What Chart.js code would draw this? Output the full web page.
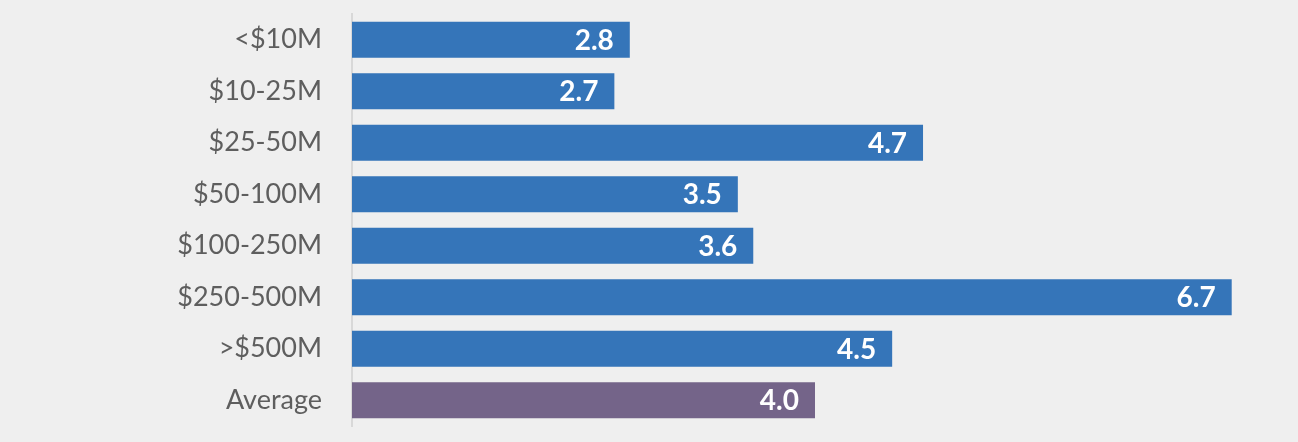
<!DOCTYPE html>
<html>
<head>
<meta charset="utf-8">
<script src="https://cdn.jsdelivr.net/npm/chart.js@4"></script>
<style>
  html, body { margin: 0; padding: 0; background: #efefef; }
  #wrap { width: 1298px; height: 442px; }
</style>
</head>
<body>
<div id="wrap"><canvas id="myChart"></canvas></div>
<script>
const categorias = ["<$10M", "$10-25M", "$25-50M", "$50-100M", "$100-250M", "$250-500M", ">$500M", "Average"];
const valores = [2.8, 2.7, 4.7, 3.5, 3.6, 6.7, 4.5, 4.0];
const colores = ["#3575b9", "#3575b9", "#3575b9", "#3575b9", "#3575b9", "#3575b9", "#3575b9", "#746489"];

// etiquetas de valor dentro de la barra
const etiquetas = {
    id: "etiquetas",
    afterDatasetsDraw(chart) {
        const ctx = chart.ctx;
        const meta = chart.getDatasetMeta(0);
        ctx.save();
        ctx.font = "bold 28px Lato";
        ctx.fillStyle = "#ffffff";
        ctx.textAlign = "right";
        ctx.textBaseline = "middle";
        meta.data.forEach((bar, i) => {
            ctx.fillText(valores[i].toFixed(1), bar.x - 16, bar.y + 1);
        });
        ctx.restore();
    }
};

const data = {
    labels: categorias,
    datasets: [
        {
            data: valores,
            backgroundColor: colores,
            borderWidth: 0,
            barPercentage: 0.7,
            categoryPercentage: 1.0,
        },
    ],
};

const config = {
    type: "bar",
    data: data,
    options: {
        indexAxis: "y",
        responsive: true,
        maintainAspectRatio: false,
        animation: false,
        layout: { padding: { left: 0, right: 20, top: 14, bottom: 16 } },
        plugins: {
            legend: { display: false },
            tooltip: { enabled: false },
        },
        scales: {
            x: {
                min: 1,
                max: 7,
                display: false,
            },
            y: {
                afterFit: (axis) => {
                    axis.width = 352;
                    axis.paddingTop = 0;
                    axis.paddingBottom = 0;
                },
                grid: { display: false, drawTicks: false },
                border: { display: true, color: "#d8d8d8", width: 2 },
                ticks: {
                    color: "#5e5e5e",
                    font: { family: "Lato", size: 27 },
                    padding: 30,
                },
            },
        },
    },
    plugins: [etiquetas],
};

const myChart = new Chart(document.getElementById("myChart"), config);
</script>
</body>
</html>
